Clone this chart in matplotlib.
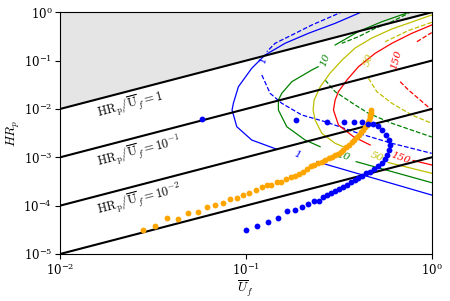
import matplotlib.pyplot as plt
import numpy as np

plt.rcParams['font.family'] = 'serif'
plt.rcParams['mathtext.fontset'] = 'cm'
plt.rcParams['font.size'] = 8.5

# black reference lines HR_p / U_f = r
ratios = [1.0, 1e-1, 1e-2, 1e-3]
ratio_labels = ['1', '10^{-1}', '10^{-2}']
ratio_label_x = [0.016, 0.016, 0.016]
ratio_label_y = [0.008, 0.0008, 0.00008]

# measured points
orange_x = [0.0279, 0.0325, 0.0378, 0.0433, 0.0491, 0.0551, 0.0616, 0.0683, 0.0751, 0.0823,
            0.0894, 0.0970, 0.1045, 0.1136, 0.1219, 0.1297, 0.1368, 0.1468, 0.1548, 0.1647,
            0.1746, 0.1841, 0.1942, 0.2041, 0.2137, 0.2246, 0.2331, 0.2440, 0.2564, 0.2671,
            0.2790, 0.2903, 0.3024, 0.3138, 0.3237, 0.3340, 0.3466, 0.3597, 0.3710, 0.3826,
            0.3947, 0.4046, 0.4174, 0.4294, 0.4385, 0.4478, 0.4550, 0.4607, 0.4648, 0.4683,
            0.4707, 0.4724]
orange_y = [3.14e-5, 3.80e-5, 5.49e-5, 5.23e-5, 7.17e-5, 7.51e-5, 9.40e-5, 1.009e-4, 1.153e-4, 1.357e-4,
            1.464e-4, 1.641e-4, 1.805e-4, 2.112e-4, 2.436e-4, 2.617e-4, 2.617e-4, 3.09e-4, 3.09e-4, 3.566e-4,
            3.867e-4, 4.174e-4, 4.462e-4, 5.05e-4, 5.74e-4, 6.63e-4, 6.95e-4, 7.53e-4, 8.13e-4, 8.81e-4,
            9.47e-4, 1.017e-3, 1.092e-3, 1.173e-3, 1.26e-3, 1.419e-3, 1.599e-3, 1.80e-3, 2.028e-3, 2.285e-3,
            2.574e-3, 2.90e-3, 3.266e-3, 3.679e-3, 4.144e-3, 4.667e-3, 5.257e-3, 5.92e-3, 6.67e-3, 7.51e-3,
            8.46e-3, 9.53e-3]

blue_x = [0.0579, 0.1864, 0.2748, 0.338, 0.384, 0.421,
          0.455, 0.484, 0.515, 0.541, 0.569, 0.590, 0.598, 0.590, 0.576, 0.562,
          0.541, 0.515, 0.490, 0.467, 0.444, 0.422, 0.402, 0.3875, 0.369, 0.351,
          0.334, 0.318, 0.302, 0.288, 0.274, 0.2605,
          0.248, 0.234, 0.2172, 0.200, 0.1835, 0.166, 0.1486, 0.1322, 0.1154, 0.1003]
blue_y = [6.12e-3, 5.92e-3, 5.31e-3, 5.31e-3, 5.31e-3, 5.31e-3,
          4.90e-3, 5.01e-3, 4.45e-3, 3.68e-3, 2.90e-3, 2.29e-3, 1.80e-3, 1.42e-3, 1.12e-3, 9.25e-4,
          7.64e-4, 6.63e-4, 5.74e-4, 4.98e-4, 4.75e-4, 4.11e-4, 3.74e-4, 3.40e-4, 3.09e-4, 2.68e-4,
          2.44e-4, 2.21e-4, 2.01e-4, 1.83e-4, 1.66e-4, 1.51e-4,
          1.27e-4, 1.27e-4, 1.10e-4, 9.53e-5, 8.15e-5, 7.66e-5, 5.65e-5, 4.54e-5, 3.86e-5, 3.14e-5]

# level curves (solid and dashed families), labels 1, 10, 50, 150
b_solid_1x = [0.44, 0.3024, 0.2172, 0.1627, 0.1269, 0.1076, 0.0912, 0.0857, 0.0843, 0.0894, 0.1076, 0.1467]
b_solid_1y = [1.1, 0.592, 0.368, 0.229, 0.1309, 0.0695, 0.0289, 0.01312, 0.00953, 0.0043, 0.00228, 0.00147]
b_solid_2x = [0.241, 1.0]
b_solid_2y = [0.000813, 0.000166]
b_dash_1x = [0.335, 0.2265, 0.1768, 0.1437, 0.1297]
b_dash_1y = [1.05, 0.546, 0.339, 0.2285, 0.1531]
b_dash_2x = [0.1219, 0.1351, 0.1561, 0.2001, 0.2671, 0.4036, 0.6106, 1.0]
b_dash_2y = [0.0505, 0.0211, 0.01312, 0.00751, 0.00546, 0.00314, 0.00195, 0.00121]

g_solid_1x = [0.76, 0.7353, 0.5395, 0.4036, 0.3024]
g_solid_1y = [1.05, 0.967, 0.639, 0.40, 0.2107]
g_solid_2x = [0.2449, 0.2265, 0.1768, 0.1561, 0.1497, 0.1497, 0.1661, 0.2084, 0.251]
g_solid_2y = [0.0749, 0.0641, 0.0367, 0.0211, 0.01535, 0.00953, 0.0043, 0.00228, 0.00166]
g_solid_3x = [0.3922, 1.0]
g_solid_3y = [0.000814, 0.000299]
g_dash_1x = [0.78, 0.7353, 0.6106, 0.4964, 0.4036, 0.3285]
g_dash_1y = [1.05, 0.922, 0.639, 0.467, 0.313, 0.2285]
g_dash_2x = [0.2671, 0.3024, 0.3875, 0.4568, 0.6106, 1.0]
g_dash_2y = [0.0398, 0.0228, 0.0121, 0.00815, 0.00506, 0.00264]

y_solid_1x = [1.0, 0.7823, 0.6106, 0.4765, 0.3875, 0.3297, 0.2842, 0.251, 0.2331, 0.2301, 0.2359, 0.2564, 0.3024, 0.3568]
y_solid_1y = [0.880, 0.630, 0.452, 0.294, 0.1827, 0.1031, 0.0555, 0.0285, 0.01535, 0.00953, 0.00592, 0.00314, 0.00195, 0.00149]
y_solid_2x = [0.5832, 1.0]
y_solid_2y = [0.000782, 0.000468]
y_dash_1x = [1.0, 0.75, 0.562]
y_dash_1y = [0.62, 0.42, 0.2465]
y_dash_2x = [0.4568, 0.507, 0.6106, 0.7823, 1.0]
y_dash_2y = [0.0432, 0.0228, 0.01312, 0.00751, 0.00506]

r_solid_1x = [1.0, 0.7823, 0.6106, 0.4964, 0.4036, 0.3498, 0.315, 0.3024, 0.2961, 0.315, 0.3793, 0.4666]
r_solid_1y = [0.546, 0.368, 0.2285, 0.1419, 0.0749, 0.0398, 0.0228, 0.01535, 0.00953, 0.00467, 0.00267, 0.0018]
r_solid_2x = [0.795, 1.0]
r_solid_2y = [0.000861, 0.000695]
r_dash_1x = [0.8324, 1.0]
r_dash_1y = [0.2465, 0.38]
r_dash_2x = [0.6768, 0.75, 0.8673, 1.0]
r_dash_2y = [0.0367, 0.0247, 0.01535, 0.00953]

level_names = ['1', '10', '50', '150']
upper_label_x = [0.1238, 0.2671, 0.4568, 0.6497]
upper_label_y = [0.1031, 0.1031, 0.1031, 0.1031]
upper_label_rot = [80, 70, 70, 75]
lower_label_x = [0.188, 0.3351, 0.507, 0.6768]
lower_label_y = [0.00112, 0.00103, 0.00103, 0.000956]
lower_label_rot = [-20, -15, -20, -20]
level_colors = ['b', 'g', 'y', 'r']

fig = plt.figure(figsize=(4.5, 3.01), dpi=100)
ax = fig.add_axes([0.1333, 0.1561, 0.826, 0.803])
ax.set_xscale('log')
ax.set_yscale('log')

xx = np.logspace(-2, 0, 50)
ax.fill_between(xx, xx, 1, color='#e5e5e5', lw=0, zorder=0)
for r in ratios:
    ax.plot(xx, r * xx, color='k', lw=1.5, zorder=2)
for lab, tx, ty in zip(ratio_labels, ratio_label_x, ratio_label_y):
    ax.text(tx, ty, r'$\mathrm{HR_p/\overline{U}}_f = %s$' % lab, rotation=14.6,
            rotation_mode='anchor', ha='left', va='center', fontsize=9)

curves = [
    (b_solid_1x, b_solid_1y, 'b', '-'), (b_solid_2x, b_solid_2y, 'b', '-'),
    (b_dash_1x, b_dash_1y, 'b', '--'), (b_dash_2x, b_dash_2y, 'b', '--'),
    (g_solid_1x, g_solid_1y, 'g', '-'), (g_solid_2x, g_solid_2y, 'g', '-'),
    (g_solid_3x, g_solid_3y, 'g', '-'),
    (g_dash_1x, g_dash_1y, 'g', '--'), (g_dash_2x, g_dash_2y, 'g', '--'),
    (y_solid_1x, y_solid_1y, 'y', '-'), (y_solid_2x, y_solid_2y, 'y', '-'),
    (y_dash_1x, y_dash_1y, 'y', '--'), (y_dash_2x, y_dash_2y, 'y', '--'),
    (r_solid_1x, r_solid_1y, 'r', '-'), (r_solid_2x, r_solid_2y, 'r', '-'),
    (r_dash_1x, r_dash_1y, 'r', '--'), (r_dash_2x, r_dash_2y, 'r', '--'),
]
for cx, cy, c, ls in curves:
    ax.plot(cx, cy, color=c, ls=ls, lw=0.9, zorder=1)

for i, name in enumerate(level_names):
    ax.text(upper_label_x[i], upper_label_y[i], name, color=level_colors[i], fontsize=7.5,
            rotation=upper_label_rot[i], ha='center', va='center', style='italic')
    ax.text(lower_label_x[i], lower_label_y[i], name, color=level_colors[i], fontsize=7.5,
            rotation=lower_label_rot[i], ha='center', va='center', style='italic')

ax.plot(orange_x, orange_y, 'o', color='orange', ms=4.2, mec='none', zorder=3)
ax.plot(blue_x, blue_y, 'o', color='b', ms=4.2, mec='none', zorder=4)

ax.set_xlim(1e-2, 1)
ax.set_ylim(1e-5, 1)
ax.minorticks_off()
ax.tick_params(labelsize=8.5, pad=2)
ax.set_xlabel(r'$\overline{U}_f$', fontsize=9.5, labelpad=1)
ax.set_ylabel(r'$HR_p$', fontsize=9.5, labelpad=1)

plt.savefig('out.png', dpi=100)
